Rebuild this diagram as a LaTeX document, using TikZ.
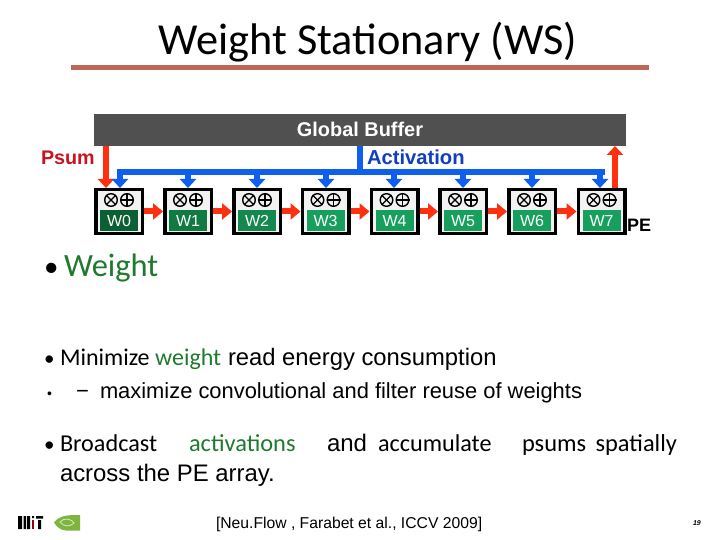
\documentclass[tikz,border=0pt]{standalone}
\usepackage{fontspec}
\setmainfont{Liberation Sans}
\newfontfamily\calb{Carlito}
\usetikzlibrary{arrows.meta}
\definecolor{bufgray}{HTML}{505050}
\definecolor{redarrow}{HTML}{FF3010}
\definecolor{bluearrow}{HTML}{0F5FEE}
\definecolor{txtgreen}{HTML}{1F7A2E}
\definecolor{rulered}{HTML}{C0675C}
\definecolor{psumred}{HTML}{C8141E}
\definecolor{actblue}{HTML}{1040C0}
\definecolor{logogreen}{HTML}{7DB53F}
\tikzset{
  x=1pt,y=-1pt,
  pebox/.style={draw=black,fill=black!5,line width=3.5pt,minimum width=46.5pt,minimum height=43.5pt,inner sep=0pt},
  wlabel/.style={fill=#1,text=white,minimum width=38pt,minimum height=21pt,inner sep=0pt,text height=11.5pt,text depth=0pt,font=\fontsize{16}{16}\selectfont},
  opsym/.style={circle,draw=black,line width=1.4pt,minimum size=12.6pt,inner sep=0pt},
  txt/.style={anchor=base west,inner sep=0pt,outer sep=0pt},
  redflow/.style={draw=redarrow,line width=6pt,-{Triangle[width=16pt,length=9pt]}},
  redhoriz/.style={draw=redarrow,line width=6pt,-{Triangle[width=16pt,length=10pt]}},
  blueflow/.style={draw=bluearrow,line width=6pt,-{Triangle[width=16pt,length=9pt]}},
  bluebus/.style={draw=bluearrow,line width=6pt},
}
\begin{document}
\begin{tikzpicture}
\useasboundingbox (0,0) rectangle (720,540);
\fill[white] (0,0) rectangle (720,540);
% title
\node[anchor=base,inner sep=0pt] (title) at (368,55) {\calb\fontsize{44.3}{44}\selectfont Weight Stationary (WS)};
\fill[rulered] (71,65.5) rectangle (649,70.5);
% buffer
\node[fill=bufgray,minimum width=532pt,minimum height=32pt,inner sep=0pt,outer sep=0pt] (buf) at (360,130) {};
\node[anchor=base,inner sep=0pt,text=white] (buflabel) at (360,137) {\fontsize{19.9}{20}\selectfont\bfseries Global Buffer};
\node[txt,text=psumred] (psum) at (41,164.5) {\fontsize{19.7}{20}\selectfont\bfseries Psum};
\node[txt,text=actblue] (act) at (367,165) {\fontsize{20.2}{20}\selectfont\bfseries Activation};
% PEs
\foreach \i/\cx/\gc in {0/119/0B5F34,1/188/0F7A42,2/257/14894F,3/325.5/17A05D,4/394.5/17A05D,5/463/17A05D,6/532/17A05D,7/601.5/17A05D}{
  \definecolor{thisg}{HTML}{\gc}
  \node[pebox] (w\i) at (\cx,211.5) {};
  \node[wlabel=thisg] (l\i) at (\cx,220.5) {W\i};
  \node[opsym] (m\i) at (\cx-8,200) {};
  \node[opsym] (p\i) at (\cx+8,200) {};
  \draw[black,line width=1.2pt] (m\i.north west) -- (m\i.south east) (m\i.north east) -- (m\i.south west);
  \draw[black,line width=1.2pt] (p\i.north) -- (p\i.south) (p\i.west) -- (p\i.east);
}
\node[txt] (pe) at (627,231) {\fontsize{18}{18}\selectfont\bfseries PE};
% red horizontal
\foreach \a/\b in {0/1,1/2,2/3,3/4,4/5,5/6,6/7}{
  \draw[redhoriz] (w\a.east) -- (w\b.west);
}
% psum
\coordinate (psumtop) at (106,146);
\coordinate (psumbot) at (106,188);
\draw[redflow] (psumtop) -- (psumbot);
\coordinate (outbot) at (615,188);
\coordinate (outtop) at (615,146);
\draw[redflow] (outbot) -- (outtop);
% blue bus
\coordinate (busin) at (360,146);
\coordinate (busj) at (360,172);
\coordinate (busl) at (117,172);
\coordinate (busr) at (605,172);
\draw[bluebus] (busin) -- (busj);
\draw[bluebus] (busl) -- (busr);
\foreach \i/\dx in {0/120,1/188,2/257,3/326,4/394,5/463,6/532,7/600}{
  \coordinate (d\i) at (\dx,172);
  \coordinate (e\i) at (\dx,188);
  \draw[blueflow] (d\i) -- (e\i);
}
% bullets
\node[txt] (b1) at (44,276) {\calb\fontsize{29}{29}\selectfont •};
\node[txt,text=txtgreen] (t1) at (64,276) {\calb\fontsize{32.5}{32}\selectfont Weight};
\node[txt] (b2) at (44,365) {\calb\fontsize{21}{21}\selectfont •};
\node[txt] (t2) at (60,365) {\calb\fontsize{24}{24}\selectfont Minimize \textcolor{txtgreen}{weight}};
\node[txt] (t2b) at (228,365) {\fontsize{23.8}{24}\selectfont read energy consumption};
\node[txt] (b3) at (47,398) {\fontsize{14}{14}\selectfont •};
\node[txt] (t3a) at (76,398) {\fontsize{22}{22}\selectfont −};
\node[txt] (t3) at (100,398) {\fontsize{21.9}{22}\selectfont maximize convolutional and filter reuse of weights};
\node[txt] (b4) at (44,451) {\calb\fontsize{21}{21}\selectfont •};
\node[txt] (t4) at (60,451) {\calb\fontsize{24.2}{24}\selectfont Broadcast};
\node[txt,text=txtgreen] (t5) at (189,451) {\calb\fontsize{24.4}{24}\selectfont activations};
\node[txt] (t6) at (327,451) {\fontsize{24}{24}\selectfont and};
\node[txt] (t7) at (378,451) {\calb\fontsize{24.2}{24}\selectfont accumulate};
\node[txt] (t8) at (522,451) {\calb\fontsize{24.4}{24}\selectfont psums\hspace{4pt} spatially};
\node[txt] (t9) at (60,481) {\fontsize{23.9}{24}\selectfont across the PE array.};
\node[txt] (cite) at (216,528) {\fontsize{15.7}{16}\selectfont [Neu.Flow , Farabet et al., ICCV 2009]};
\node[txt] (pg) at (693,525) {\fontsize{7}{7}\selectfont\itshape\bfseries 19};
% logos
\fill[black] (18,516) rectangle (22,529) (23.5,516) rectangle (26,529) (27,516) rectangle (30,529) (32,516) rectangle (34,518) (36,516) rectangle (43,518.5) (38,520) rectangle (41,529);
\fill[red!60!black] (32,520) rectangle (34,529);
\fill[logogreen] (54,522.5) .. controls (60,515) and (68,515) .. (80,515) -- (80,530.5) -- (66,530.5) .. controls (60,530) and (57,527) .. (54,522.5) -- cycle;
\draw[white!70!logogreen,line width=0.8pt] (60,522) .. controls (64,517) and (72,519) .. (74,523) .. controls (70,527) and (64,527) .. (60,522) -- cycle;
\end{tikzpicture}
\end{document}
